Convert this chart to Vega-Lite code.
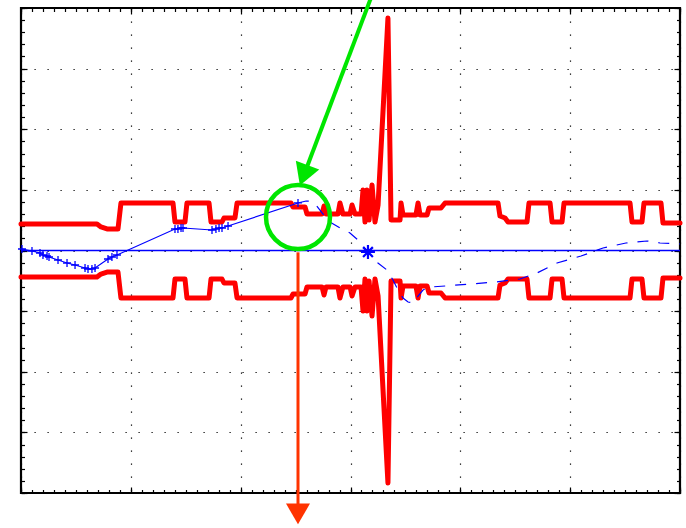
{
  "$schema": "https://vega.github.io/schema/vega-lite/v6.json",
  "width": 659,
  "height": 485,
  "autosize": "none",
  "padding": {"left": 21, "top": 8, "right": 6, "bottom": 35},
  "background": "white",
  "config": {"view": {"stroke": "black", "strokeWidth": 2.2}},
  "datasets": {
    "redUp": [
      {"x": 0, "y": 4.37}, {"x": 6.92, "y": 4.37}, {"x": 7.28, "y": 3.88}, {"x": 7.83, "y": 3.55}, {"x": 8.83, "y": 3.55},
      {"x": 9.10, "y": 7.84}, {"x": 13.84, "y": 7.84}, {"x": 14.02, "y": 4.70}, {"x": 14.93, "y": 4.70}, {"x": 15.11, "y": 7.84},
      {"x": 17.12, "y": 7.84}, {"x": 17.30, "y": 4.70}, {"x": 18.30, "y": 4.70}, {"x": 18.48, "y": 5.36}, {"x": 19.48, "y": 5.36},
      {"x": 19.67, "y": 7.84}, {"x": 24.58, "y": 7.84}, {"x": 24.77, "y": 7.18}, {"x": 25.86, "y": 7.18}, {"x": 26.04, "y": 6.02},
      {"x": 27.41, "y": 6.02}, {"x": 27.59, "y": 7.34}, {"x": 27.77, "y": 6.02}, {"x": 28.86, "y": 6.02}, {"x": 29.04, "y": 7.84},
      {"x": 29.31, "y": 6.02}, {"x": 29.96, "y": 6.02}, {"x": 30.14, "y": 7.51}, {"x": 30.41, "y": 6.02}, {"x": 30.96, "y": 6.02},
      {"x": 31.14, "y": 9.98}, {"x": 31.32, "y": 4.70}, {"x": 31.50, "y": 9.98}, {"x": 31.69, "y": 5.03}, {"x": 31.96, "y": 10.80},
      {"x": 32.23, "y": 4.70}, {"x": 32.51, "y": 7.51}, {"x": 33.41, "y": 38.35}, {"x": 33.69, "y": 5.03}, {"x": 34.51, "y": 5.03},
      {"x": 34.60, "y": 7.84}, {"x": 34.78, "y": 5.86}, {"x": 35.96, "y": 5.86}, {"x": 36.15, "y": 7.84}, {"x": 36.33, "y": 5.86},
      {"x": 36.97, "y": 5.86}, {"x": 37.15, "y": 7.01}, {"x": 38.24, "y": 7.01}, {"x": 38.61, "y": 7.84}, {"x": 43.43, "y": 7.84},
      {"x": 43.61, "y": 5.69}, {"x": 44.07, "y": 5.36}, {"x": 44.34, "y": 4.70}, {"x": 46.07, "y": 4.70}, {"x": 46.25, "y": 7.84},
      {"x": 48.17, "y": 7.84}, {"x": 48.35, "y": 4.70}, {"x": 49.26, "y": 4.70}, {"x": 49.44, "y": 7.84}, {"x": 55.45, "y": 7.84},
      {"x": 55.63, "y": 4.70}, {"x": 56.54, "y": 4.70}, {"x": 56.72, "y": 7.84}, {"x": 58.27, "y": 7.84}, {"x": 58.45, "y": 4.54},
      {"x": 60.0, "y": 4.54}
    ],
    "redLo": [
      {"x": 0, "y": -4.37}, {"x": 6.92, "y": -4.37}, {"x": 7.28, "y": -3.88}, {"x": 7.83, "y": -3.55}, {"x": 8.83, "y": -3.55},
      {"x": 9.10, "y": -7.84}, {"x": 13.84, "y": -7.84}, {"x": 14.02, "y": -4.70}, {"x": 14.93, "y": -4.70}, {"x": 15.11, "y": -7.84},
      {"x": 17.12, "y": -7.84}, {"x": 17.30, "y": -4.70}, {"x": 18.30, "y": -4.70}, {"x": 18.48, "y": -5.36}, {"x": 19.48, "y": -5.36},
      {"x": 19.67, "y": -7.84}, {"x": 24.58, "y": -7.84}, {"x": 24.77, "y": -7.18}, {"x": 25.86, "y": -7.18}, {"x": 26.04, "y": -6.02},
      {"x": 27.41, "y": -6.02}, {"x": 27.59, "y": -7.34}, {"x": 27.77, "y": -6.02}, {"x": 28.86, "y": -6.02}, {"x": 29.04, "y": -7.84},
      {"x": 29.31, "y": -6.02}, {"x": 29.96, "y": -6.02}, {"x": 30.14, "y": -7.51}, {"x": 30.41, "y": -6.02}, {"x": 30.96, "y": -6.02},
      {"x": 31.14, "y": -9.98}, {"x": 31.32, "y": -4.70}, {"x": 31.50, "y": -9.98}, {"x": 31.69, "y": -5.03}, {"x": 31.96, "y": -10.80},
      {"x": 32.23, "y": -4.70}, {"x": 32.51, "y": -7.51}, {"x": 33.41, "y": -38.35}, {"x": 33.69, "y": -5.03}, {"x": 34.51, "y": -5.03},
      {"x": 34.60, "y": -7.84}, {"x": 34.78, "y": -5.86}, {"x": 35.96, "y": -5.86}, {"x": 36.15, "y": -7.84}, {"x": 36.33, "y": -5.86},
      {"x": 36.97, "y": -5.86}, {"x": 37.15, "y": -7.01}, {"x": 38.24, "y": -7.01}, {"x": 38.61, "y": -7.84}, {"x": 43.43, "y": -7.84},
      {"x": 43.61, "y": -5.69}, {"x": 44.07, "y": -5.36}, {"x": 44.34, "y": -4.70}, {"x": 46.07, "y": -4.70}, {"x": 46.25, "y": -7.84},
      {"x": 48.17, "y": -7.84}, {"x": 48.35, "y": -4.70}, {"x": 49.26, "y": -4.70}, {"x": 49.44, "y": -7.84}, {"x": 55.45, "y": -7.84},
      {"x": 55.63, "y": -4.70}, {"x": 56.54, "y": -4.70}, {"x": 56.72, "y": -7.84}, {"x": 58.27, "y": -7.84}, {"x": 58.45, "y": -4.54},
      {"x": 60.0, "y": -4.54}
    ],
    "zero": [{"x": 0, "y": 0}, {"x": 60, "y": 0}],
    "blueSolid": [
      {"x": 0.09, "y": 0.25}, {"x": 1.00, "y": -0.08}, {"x": 1.73, "y": -0.41}, {"x": 2.00, "y": -0.74}, {"x": 2.37, "y": -0.91},
      {"x": 2.55, "y": -1.07}, {"x": 3.37, "y": -1.57}, {"x": 4.19, "y": -2.06}, {"x": 4.92, "y": -2.39}, {"x": 5.83, "y": -2.89},
      {"x": 6.10, "y": -3.05}, {"x": 6.46, "y": -3.05}, {"x": 6.74, "y": -2.89}, {"x": 7.92, "y": -1.40}, {"x": 8.28, "y": -1.07},
      {"x": 8.74, "y": -0.74}, {"x": 14.02, "y": 3.55}, {"x": 14.29, "y": 3.55}, {"x": 14.57, "y": 3.71}, {"x": 14.75, "y": 3.71},
      {"x": 17.39, "y": 3.38}, {"x": 17.75, "y": 3.55}, {"x": 18.03, "y": 3.71}, {"x": 18.30, "y": 3.71}, {"x": 18.85, "y": 4.04},
      {"x": 25.22, "y": 7.84}
    ],
    "blueDash": [
      {"x": 25.22, "y": 7.84}, {"x": 25.95, "y": 8.16}, {"x": 26.40, "y": 8.16}, {"x": 26.86, "y": 7.51}, {"x": 27.41, "y": 6.19},
      {"x": 28.13, "y": 4.70}, {"x": 29.04, "y": 3.71}, {"x": 29.95, "y": 2.89}, {"x": 30.68, "y": 1.73}, {"x": 31.59, "y": -0.25},
      {"x": 32.50, "y": -2.06}, {"x": 33.32, "y": -3.22}, {"x": 33.87, "y": -4.87}, {"x": 34.33, "y": -6.52}, {"x": 34.78, "y": -7.84},
      {"x": 35.24, "y": -8.49}, {"x": 35.69, "y": -8.66}, {"x": 36.15, "y": -7.51}, {"x": 36.60, "y": -6.52}, {"x": 37.24, "y": -6.02},
      {"x": 38.61, "y": -5.86}, {"x": 40.88, "y": -5.53}, {"x": 43.16, "y": -5.20}, {"x": 45.43, "y": -4.70}, {"x": 46.98, "y": -3.71},
      {"x": 48.80, "y": -2.06}, {"x": 50.99, "y": -0.91}, {"x": 52.99, "y": 0.41}, {"x": 55.08, "y": 1.24}, {"x": 56.99, "y": 1.57},
      {"x": 58.18, "y": 1.24}, {"x": 60.00, "y": 1.07}
    ],
    "star": [{"x": 31.59, "y": -0.25}],
    "circle": [{"x": 25.22, "y": 5.53}],
    "gLine": [{"x": 31.96, "y": 42.14}, {"x": 26.00, "y": 13.61}],
    "gHead": [{"x": 25.74, "y": 12.40}],
    "oLine": [{"x": 25.22, "y": -0.3}, {"x": 25.22, "y": -42.0}],
    "oHead": [{"x": 25.22, "y": -43.46}]
  },
  "encoding": {
    "x": {"field": "x", "type": "quantitative", "scale": {"domain": [0, 60], "nice": false, "zero": false}, "axis": null},
    "y": {"field": "y", "type": "quantitative", "scale": {"domain": [-40, 40], "nice": false, "zero": false}, "axis": null}
  },
  "resolve": {"axis": {"x": "independent", "y": "independent"}},
  "layer": [
    {
      "data": {"name": "redUp"},
      "mark": {"type": "line", "color": "#ff0000", "strokeWidth": 5, "strokeJoin": "round", "strokeCap": "round"},
      "encoding": {
        "order": {"value": null},
        "x": {"field": "x", "type": "quantitative", "axis": {"orient": "bottom", "values": [0, 10, 20, 30, 40, 50, 60], "labels": false, "domain": false, "title": null, "tickSize": -6, "tickColor": "black", "tickWidth": 1.2, "grid": true, "gridColor": "black", "gridDash": [1.2, 11.8], "gridWidth": 1.2, "gridOpacity": 1}},
        "y": {"field": "y", "type": "quantitative", "axis": {"orient": "left", "values": [-40, -30, -20, -10, 0, 10, 20, 30, 40], "labels": false, "domain": false, "title": null, "tickSize": -6, "tickColor": "black", "tickWidth": 1.2, "grid": true, "gridColor": "black", "gridDash": [1.2, 11.8], "gridWidth": 1.2, "gridOpacity": 1}}
      }
    },
    {
      "data": {"name": "redLo"},
      "mark": {"type": "line", "color": "#ff0000", "strokeWidth": 5, "strokeJoin": "round", "strokeCap": "round"},
      "encoding": {
        "order": {"value": null},
        "x": {"field": "x", "type": "quantitative", "axis": {"orient": "top", "values": [0, 10, 20, 30, 40, 50, 60], "labels": false, "domain": false, "title": null, "tickSize": -6, "tickColor": "black", "tickWidth": 1.2, "grid": false}},
        "y": {"field": "y", "type": "quantitative", "axis": {"orient": "right", "values": [-40, -30, -20, -10, 0, 10, 20, 30, 40], "labels": false, "domain": false, "title": null, "tickSize": -6, "tickColor": "black", "tickWidth": 1.2, "grid": false}}
      }
    },
    {
      "data": {"name": "zero"},
      "mark": {"type": "line", "color": "#0000ff", "strokeWidth": 1.6},
      "encoding": {
        "x": {"field": "x", "type": "quantitative", "axis": {"orient": "bottom", "values": [0,1,2,3,4,5,6,7,8,9,10,11,12,13,14,15,16,17,18,19,20,21,22,23,24,25,26,27,28,29,30,31,32,33,34,35,36,37,38,39,40,41,42,43,44,45,46,47,48,49,50,51,52,53,54,55,56,57,58,59,60], "labels": false, "domain": false, "title": null, "tickSize": -3.5, "tickColor": "black", "tickWidth": 1.2, "grid": false}},
        "y": {"field": "y", "type": "quantitative", "axis": {"orient": "left", "values": [-40,-38,-36,-34,-32,-30,-28,-26,-24,-22,-20,-18,-16,-14,-12,-10,-8,-6,-4,-2,0,2,4,6,8,10,12,14,16,18,20,22,24,26,28,30,32,34,36,38,40], "labels": false, "domain": false, "title": null, "tickSize": -3.5, "tickColor": "black", "tickWidth": 1.2, "grid": false}}
      }
    },
    {
      "data": {"name": "blueSolid"},
      "mark": {"type": "line", "color": "#0000ff", "strokeWidth": 1.2},
      "encoding": {
        "order": {"value": null},
        "x": {"field": "x", "type": "quantitative", "axis": {"orient": "top", "values": [0,1,2,3,4,5,6,7,8,9,10,11,12,13,14,15,16,17,18,19,20,21,22,23,24,25,26,27,28,29,30,31,32,33,34,35,36,37,38,39,40,41,42,43,44,45,46,47,48,49,50,51,52,53,54,55,56,57,58,59,60], "labels": false, "domain": false, "title": null, "tickSize": -3.5, "tickColor": "black", "tickWidth": 1.2, "grid": false}},
        "y": {"field": "y", "type": "quantitative", "axis": {"orient": "right", "values": [-40,-38,-36,-34,-32,-30,-28,-26,-24,-22,-20,-18,-16,-14,-12,-10,-8,-6,-4,-2,0,2,4,6,8,10,12,14,16,18,20,22,24,26,28,30,32,34,36,38,40], "labels": false, "domain": false, "title": null, "tickSize": -3.5, "tickColor": "black", "tickWidth": 1.2, "grid": false}}
      }
    },
    {
      "data": {"name": "blueSolid"},
      "mark": {"type": "point", "shape": "M-1,0H1M0,-1V1", "size": 64, "filled": false, "stroke": "#0000ff", "strokeWidth": 1.3, "opacity": 1}
    },
    {
      "data": {"name": "blueDash"},
      "mark": {"type": "line", "color": "#0000ff", "strokeWidth": 1.2, "strokeDash": [11, 10]},
      "encoding": {"order": {"value": null}}
    },
    {
      "data": {"name": "star"},
      "mark": {"type": "point", "shape": "M-1,0H1M0,-1V1M-0.7,-0.7L0.7,0.7M-0.7,0.7L0.7,-0.7", "size": 196, "filled": false, "stroke": "#0000ff", "strokeWidth": 2.2, "opacity": 1}
    },
    {
      "data": {"name": "circle"},
      "mark": {"type": "point", "shape": "circle", "size": 4096, "filled": false, "stroke": "#00e600", "strokeWidth": 4.5, "opacity": 1}
    },
    {
      "data": {"name": "gLine"},
      "mark": {"type": "line", "color": "#00e600", "strokeWidth": 4},
      "encoding": {"order": {"value": null}}
    },
    {
      "data": {"name": "gHead"},
      "mark": {"type": "point", "shape": "triangle-down", "size": 625, "filled": true, "fill": "#00e600", "strokeWidth": 0, "angle": 20.7, "opacity": 1}
    },
    {
      "data": {"name": "oLine"},
      "mark": {"type": "line", "color": "#ff3300", "strokeWidth": 3},
      "encoding": {"order": {"value": null}}
    },
    {
      "data": {"name": "oHead"},
      "mark": {"type": "point", "shape": "triangle-down", "size": 576, "filled": true, "fill": "#ff3300", "strokeWidth": 0, "opacity": 1}
    }
  ]
}
